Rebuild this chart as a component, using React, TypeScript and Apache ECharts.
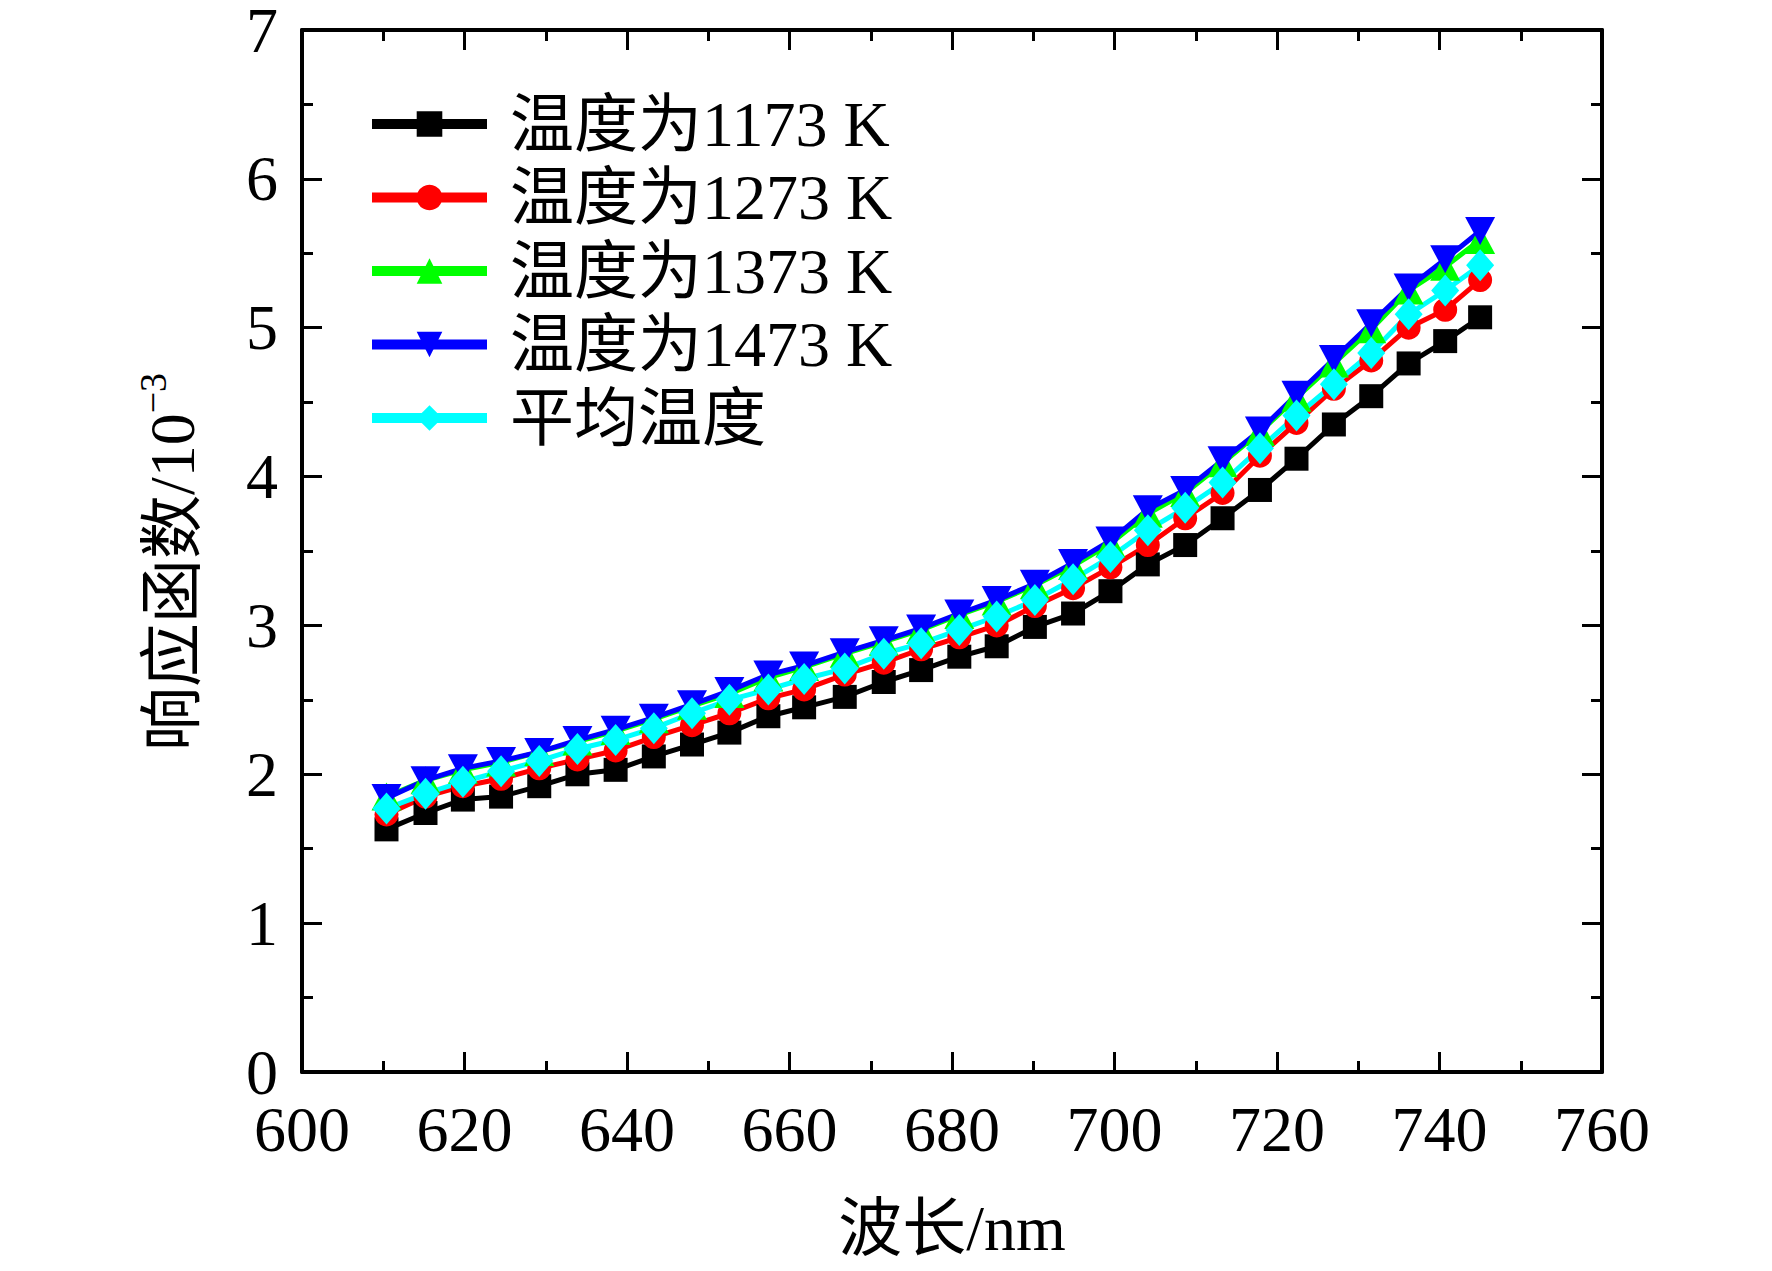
import React, { useEffect, useRef } from "react";
import * as echarts from "echarts";

const wavelengths = [610.4, 615.2, 619.8, 624.5, 629.2, 633.9, 638.6, 643.3, 648.0, 652.6, 657.4, 661.8, 666.8, 671.6, 676.2, 680.9, 685.5, 690.2, 694.9, 699.5, 704.1, 708.7, 713.3, 717.9, 722.4, 727.0, 731.6, 736.2, 740.7, 745.0];

const t1173 = [1.63, 1.74, 1.83, 1.85, 1.92, 2.00, 2.03, 2.12, 2.20, 2.28, 2.39, 2.45, 2.52, 2.62, 2.70, 2.79, 2.86, 2.99, 3.08, 3.23, 3.41, 3.54, 3.72, 3.91, 4.12, 4.35, 4.54, 4.76, 4.91, 5.07];
const t1273 = [1.73, 1.85, 1.92, 1.97, 2.04, 2.10, 2.16, 2.25, 2.33, 2.41, 2.51, 2.57, 2.67, 2.75, 2.84, 2.92, 3.00, 3.13, 3.25, 3.39, 3.54, 3.72, 3.89, 4.14, 4.36, 4.59, 4.78, 5.00, 5.12, 5.32];
const t1373 = [1.85, 1.96, 2.03, 2.08, 2.15, 2.22, 2.29, 2.37, 2.46, 2.54, 2.65, 2.72, 2.81, 2.89, 2.97, 3.07, 3.16, 3.27, 3.40, 3.55, 3.75, 3.89, 4.09, 4.30, 4.53, 4.76, 4.99, 5.25, 5.41, 5.59];
const t1473 = [1.84, 1.96, 2.04, 2.09, 2.15, 2.23, 2.30, 2.38, 2.47, 2.56, 2.67, 2.73, 2.82, 2.90, 2.98, 3.08, 3.17, 3.28, 3.42, 3.57, 3.78, 3.91, 4.11, 4.31, 4.55, 4.79, 5.03, 5.27, 5.46, 5.65];
const tAvg = [1.77, 1.87, 1.95, 2.02, 2.09, 2.17, 2.23, 2.31, 2.41, 2.50, 2.57, 2.64, 2.71, 2.81, 2.88, 2.97, 3.06, 3.17, 3.31, 3.46, 3.64, 3.79, 3.96, 4.19, 4.41, 4.62, 4.83, 5.09, 5.25, 5.42];

const seriesNames = ["温度为1173 K", "温度为1273 K", "温度为1373 K", "温度为1473 K", "平均温度"];
const xTitle = "波长/nm";
const yTitleMain = "响应函数/10";
const yTitleSup = "−3";

const FONT = "'Liberation Serif', 'Times New Roman', 'Noto Sans CJK SC', serif";

export default function App() {
  const ref = useRef<HTMLDivElement>(null);
  useEffect(() => {
    document.body.style.margin = "0";
    if (!ref.current) return;
    const chart = echarts.init(ref.current, null, { renderer: "svg" });
    const pair = (ys: number[]) => ys.map((y, i) => [wavelengths[i], y]);
    const specs = [
      { data: t1173, color: "#000000", symbol: "rect", size: 24, rotate: 0 },
      { data: t1273, color: "#ff0000", symbol: "circle", size: 24, rotate: 0 },
      { data: t1373, color: "#00ff00", symbol: "triangle", size: [30, 28], rotate: 0 },
      { data: t1473, color: "#0000ff", symbol: "triangle", size: [30, 28], rotate: 180 },
      { data: tAvg, color: "#00ffff", symbol: "diamond", size: [28, 32], rotate: 0 },
    ];
    const axisLine = { show: true, onZero: false, lineStyle: { color: "#000", width: 4 } };
    const tick = { show: true, inside: true, length: 20, lineStyle: { color: "#000", width: 3 } };
    const minor = { show: true, splitNumber: 2, length: 11, lineStyle: { color: "#000", width: 3 } };
    chart.setOption({
      animation: false,
      backgroundColor: "#fff",
      grid: { left: 302, right: 170, top: 30, bottom: 199, containLabel: false, outerBoundsMode: "none" },
      legend: {
        orient: "vertical",
        left: 362,
        top: 87,
        itemWidth: 115,
        itemHeight: 32,
        itemGap: 9.5,
        lineStyle: { width: 10 },
        data: seriesNames,
        textStyle: { fontFamily: FONT, fontSize: 64, color: "#000", lineHeight: 64, padding: [0, 0, 0, 18] },
      },
      xAxis: [
        {
          type: "value",
          min: 600,
          max: 760,
          interval: 20,
          position: "bottom",
          axisLine,
          axisTick: tick,
          minorTick: minor,
          splitLine: { show: false },
          axisLabel: { color: "#000", fontFamily: FONT, fontSize: 64, margin: 25 },
          name: xTitle,
          nameLocation: "middle",
          nameGap: 124,
          nameTextStyle: { color: "#000", fontFamily: FONT, fontSize: 64 },
        },
        {
          type: "value",
          min: 600,
          max: 760,
          interval: 20,
          position: "top",
          axisLine,
          axisTick: tick,
          minorTick: minor,
          splitLine: { show: false },
          axisLabel: { show: false },
        },
      ],
      yAxis: [
        {
          type: "value",
          min: 0,
          max: 7,
          interval: 1,
          position: "left",
          axisLine,
          axisTick: tick,
          minorTick: minor,
          splitLine: { show: false },
          axisLabel: { color: "#000", fontFamily: FONT, fontSize: 64, margin: 24 },
          name: `{m|${yTitleMain}}{s|${yTitleSup}}`,
          nameLocation: "middle",
          nameGap: 98,
          nameTextStyle: {
            color: "#000",
            fontFamily: FONT,
            fontSize: 64,
            padding: [0, 22, 0, 0],
            rich: {
              m: { fontFamily: FONT, fontSize: 64, color: "#000", lineHeight: 70, verticalAlign: "bottom" },
              s: { fontFamily: FONT, fontSize: 38, color: "#000", lineHeight: 70, verticalAlign: "top" },
            },
          },
        },
        {
          type: "value",
          min: 0,
          max: 7,
          interval: 1,
          position: "right",
          axisLine,
          axisTick: tick,
          minorTick: minor,
          splitLine: { show: false },
          axisLabel: { show: false },
        },
      ],
      series: specs.map((s, i) => ({
        name: seriesNames[i],
        type: "line",
        xAxisIndex: 0,
        yAxisIndex: 0,
        data: pair(s.data),
        symbol: s.symbol,
        symbolSize: s.size,
        symbolRotate: s.rotate,
        showAllSymbol: true,
        lineStyle: { color: s.color, width: 5 },
        itemStyle: { color: s.color, borderWidth: 0 },
        emphasis: { disabled: true },
      })),
    });
    return () => chart.dispose();
  }, []);
  return <div ref={ref} style={{ width: 1772, height: 1271 }} />;
}
